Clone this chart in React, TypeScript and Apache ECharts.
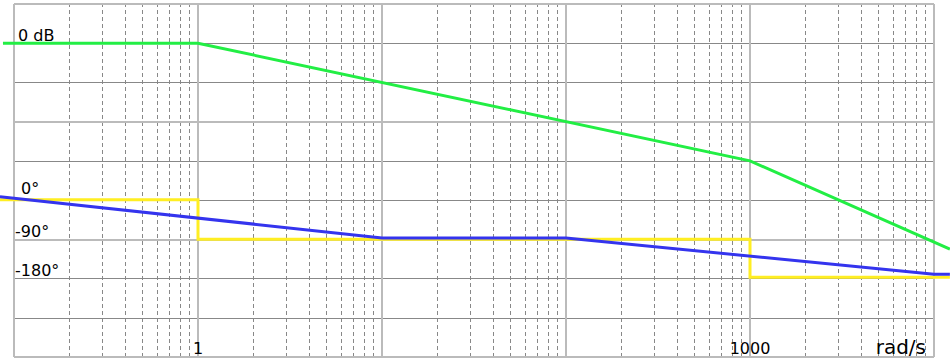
import { useEffect, useRef } from "react";
import * as echarts from "echarts";

// Grid ticks (rad/s)
const decades = [0.1, 1, 10, 100, 1000];
const minorSteps = [2, 3, 4, 5, 6, 7, 8, 9];
const xMin = 0.1;
const xMax = 10000;
const xLabelValues = [1, 1000];
const xAxisName = "rad/s";

// Magnitude axis (dB)
const magMin = -160;
const magMax = 20;
const magStep = 20;
const magnitudeLabelValue = 0;
const magnitudeLabel = "0 dB";

// Phase axis (degrees)
const phaseMin = -360;
const phaseMax = 450;
const phaseStep = 90;
const phaseLabelValues = [0, -90, -180];

// Magnitude asymptote (green)
const magnitudeFreq = [0.0871, 1, 1000, 12200];
const magnitudeDb = [0, 0, -60, -105];

// Phase step asymptote (yellow)
const phaseStepFreq = [0.0839, 1, 1, 1000, 1000, 12200];
const phaseStepDeg = [1, 1, -90, -90, -177, -177];

// Phase linear approximation (blue)
const phaseLinFreq = [0.0839, 10, 100, 10000, 12200];
const phaseLinDeg = [8, -87, -87, -170, -170];

const FONT = "DejaVu Sans";

const zip = (xs: number[], ys: number[]) => xs.map((x, i) => [x, ys[i]]);

export default function App() {
  const ref = useRef<HTMLDivElement>(null);

  useEffect(() => {
    if (!ref.current) return;
    const chart = echarts.init(ref.current, undefined, { renderer: "svg" });

    const minorTicks: number[] = [];
    decades.forEach((d) => minorSteps.forEach((s) => minorTicks.push(d * s)));

    const curve = (
      name: string,
      yAxisIndex: number,
      coords: number[][],
      color: string,
      z: number
    ) => ({
      name,
      type: "lines",
      coordinateSystem: "cartesian2d",
      xAxisIndex: 0,
      yAxisIndex,
      polyline: true,
      clip: false,
      silent: true,
      z,
      lineStyle: { color, width: 3, opacity: 1, join: "miter", cap: "butt" },
      data: [{ coords }],
    });

    const option: any = {
      animation: false,
      backgroundColor: "#fff",
      title: {
        text: xAxisName,
        right: 24,
        bottom: 5,
        padding: 0,
        textStyle: { fontFamily: FONT, fontSize: 20, fontWeight: "normal", color: "#000" },
      },
      grid: { left: 14, right: 16, top: 4, bottom: 5, containLabel: false },
      xAxis: {
        type: "log",
        logBase: 10,
        min: xMin,
        max: xMax,
        splitNumber: 5,
        z: 1,
        axisLine: { show: false },
        axisTick: { show: false },
        axisLabel: {
          inside: true,
          margin: 1,
          fontFamily: FONT,
          fontSize: 16,
          color: "#000",
          formatter: (v: number) =>
            xLabelValues.some((t) => Math.abs(t - v) < 1e-6 * t) ? String(Math.round(v)) : "",
        },
        splitLine: { show: true, lineStyle: { color: "#bbb", width: 2 } },
      },
      yAxis: [
        {
          type: "value",
          min: magMin,
          max: magMax,
          interval: magStep,
          position: "left",
          z: 0,
          axisLine: { show: false },
          axisTick: { show: false },
          splitLine: { show: true, lineStyle: { color: "#888", width: 1 } },
          axisLabel: {
            inside: true,
            margin: 4,
            verticalAlign: "bottom",
            fontFamily: FONT,
            fontSize: 16,
            color: "#000",
            formatter: (v: number) => (v === magnitudeLabelValue ? magnitudeLabel : ""),
          },
        },
        {
          type: "value",
          min: phaseMin,
          max: phaseMax,
          interval: phaseStep,
          position: "left",
          z: 0,
          axisLine: { show: false },
          axisTick: { show: false },
          splitLine: { show: false },
          axisLabel: {
            inside: true,
            margin: 1,
            verticalAlign: "bottom",
            fontFamily: FONT,
            fontSize: 16,
            color: "#000",
            formatter: (v: number) =>
              phaseLabelValues.includes(v) ? (v === 0 ? `{z|${v}°}` : `${v}°`) : "",
            rich: {
              z: { fontFamily: FONT, fontSize: 16, color: "#000", padding: [0, 0, 4, 6] },
            },
          },
        },
        {
          type: "value",
          min: 0,
          max: 9,
          interval: 3,
          inverse: true,
          position: "left",
          z: 1,
          axisLine: { show: false },
          axisTick: { show: false },
          axisLabel: { show: false },
          splitLine: { show: true, lineStyle: { color: "#bbb", width: 2 } },
        },
      ],
      series: [
        {
          name: "minor grid",
          type: "lines",
          coordinateSystem: "cartesian2d",
          xAxisIndex: 0,
          yAxisIndex: 0,
          silent: true,
          clip: false,
          z: 0,
          lineStyle: { color: "#888", width: 1, type: [4, 3], opacity: 1 },
          data: minorTicks.map((v) => ({ coords: [[v, magMin], [v, magMax]] })),
        },
        curve("phase step", 1, zip(phaseStepFreq, phaseStepDeg), "#ffee22", 3),
        curve("magnitude", 0, zip(magnitudeFreq, magnitudeDb), "#22ee44", 3),
        curve("phase linear", 1, zip(phaseLinFreq, phaseLinDeg), "#3434ee", 4),
      ],
    };

    chart.setOption(option);
    return () => chart.dispose();
  }, []);

  return (
    <div
      ref={ref}
      style={{ position: "fixed", left: 0, top: 0, width: 950, height: 362 }}
    />
  );
}
